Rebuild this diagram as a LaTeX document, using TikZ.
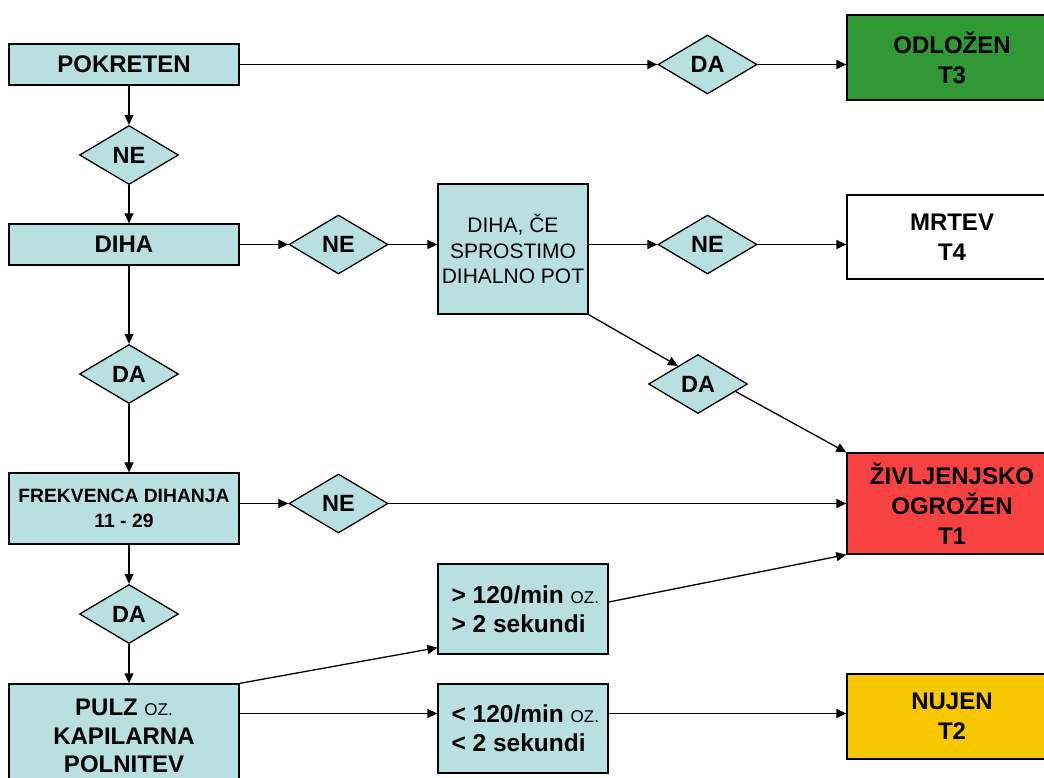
\documentclass[tikz,border=0pt]{standalone}
\usepackage{fontspec}
\setmainfont{Liberation Sans}
\usetikzlibrary{arrows.meta,shapes.geometric,calc}
\definecolor{teal1}{RGB}{184,224,224}
\definecolor{tgreen}{RGB}{48,152,52}
\definecolor{tred}{RGB}{248,66,66}
\definecolor{tyellow}{RGB}{247,200,0}
\newcommand{\ozsmall}{{\mdseries\fontsize{17}{20}\selectfont OZ.}}
\begin{document}
\begin{tikzpicture}[x=1pt,y=-1pt,
  box/.style={draw=black, line width=1.3pt, fill=teal1, rectangle, inner sep=0pt, align=center,
    font=\bfseries\fontsize{24}{30}\selectfont},
  txt/.style={inner sep=0pt, align=left, font=\bfseries\fontsize{24.5}{29}\selectfont},
  dia/.style={draw=black, line width=1.3pt, fill=teal1, diamond, minimum width=99pt, minimum height=59pt,
    inner sep=0pt, font=\bfseries\fontsize{23.5}{28}\selectfont},
  arr/.style={line width=1.3pt, -{Triangle[length=10pt,width=9pt]}},
  ln/.style={line width=1.3pt}]
\useasboundingbox (0,0) rectangle (1044,778);

% left column boxes
\node[box, minimum width=230pt, minimum height=41pt] (pok) at (124,64.5) {POKRETEN};
\node[box, minimum width=230pt, minimum height=41pt] (diha) at (124,244.5) {DIHA};
\node[box, minimum width=230pt, minimum height=71pt, font=\bfseries\fontsize{19.3}{25}\selectfont] (frek) at (124,508.5) {FREKVENCA DIHANJA\\11 - 29};
\node[box, minimum width=230pt, minimum height=104pt, font=\bfseries\fontsize{24}{28.5}\selectfont] (pulz) at (124,736) {PULZ \ozsmall\\KAPILARNA\\POLNITEV};

% middle boxes
\node[box, minimum width=150pt, minimum height=130pt, font=\mdseries\fontsize{21}{25.5}\selectfont] (dice) at (513,249) {DIHA, ČE\\SPROSTIMO\\DIHALNO POT};
\node[box, minimum width=170pt, minimum height=90pt] (gt) at (523,609) {};
\node[txt, anchor=west] (gtt) at ($(gt.west)+(14,0)$) {> 120/min \ozsmall\\> 2 sekundi};
\node[box, minimum width=170pt, minimum height=89pt] (lt) at (523,728.5) {};
\node[txt, anchor=west] (ltt) at ($(lt.west)+(14,0)$) {< 120/min \ozsmall\\< 2 sekundi};

% triage boxes
\node[box, fill=tgreen, minimum width=210pt, minimum height=85pt] (odl) at (952,57.5) {ODLOŽEN\\T3};
\node[box, fill=white, minimum width=210pt, minimum height=84pt] (mrt) at (952,237) {MRTEV\\T4};
\node[box, fill=tred, minimum width=210pt, minimum height=101pt] (t1) at (952,503.5) {ŽIVLJENJSKO\\OGROŽEN\\T1};
\node[box, fill=tyellow, minimum width=210pt, minimum height=85pt] (t2) at (952,716.5) {NUJEN\\T2};

% decisions
\node[dia] (d1) at (707.5,64.5) {DA};
\node[dia] (d2) at (129,155) {NE};
\node[dia] (d3) at (338.5,244.5) {NE};
\node[dia] (d4) at (707.5,244.5) {NE};
\node[dia] (d5) at (698,384) {DA};
\node[dia] (d6) at (129,374) {DA};
\node[dia] (d7) at (338.5,503.5) {NE};
\node[dia] (d8) at (129,614) {DA};

\coordinate (py) at (0,713.5);

% connectors
\draw[arr] (pok.east) -- (d1.west);
\draw[arr] (d1.east) -- (d1.east -| odl.west);
\draw[arr] (d2 |- pok.south) -- (d2.north);
\draw[arr] (d2.south) -- (d2 |- diha.north);
\draw[arr] (diha.east) -- (d3.west);
\draw[arr] (d3.east) -- (d3.east -| dice.west);
\draw[arr] (d4.west -| dice.east) -- (d4.west);
\draw[arr] (d4.east) -- (d4.east -| mrt.west);
\draw[arr] (dice.south east) -- ($(d5.north)!0.4!(d5.west)$);
\draw[arr] ($(d5.east)!0.25!(d5.south)$) -- (t1.north west);
\draw[arr] (d6 |- diha.south) -- (d6.north);
\draw[arr] (d6.south) -- (d6 |- frek.north);
\draw[arr] (d7.west -| frek.east) -- (d7.west);
\draw[arr] (d7.east) -- (d7.east -| t1.west);
\draw[arr] (d8 |- frek.south) -- (d8.north);
\draw[arr] (d8.south) -- (d8 |- pulz.north);
\draw[arr] (pulz.north east) -- ($(gt.south west)+(0,-7)$);
\draw[arr] (py -| pulz.east) -- (py -| lt.west);
\draw[arr] (py -| lt.east) -- (py -| t2.west);
\draw[arr] ($(gt.east)+(0,-7)$) -- (t1.south west);
\end{tikzpicture}
\end{document}
